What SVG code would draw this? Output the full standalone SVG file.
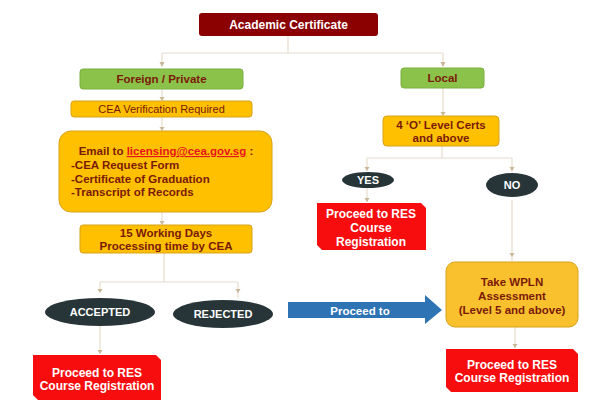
<svg xmlns="http://www.w3.org/2000/svg" width="612" height="408" viewBox="0 0 612 408">
<defs>
<style>
text{font-family:"Liberation Sans",Arial,sans-serif;}
.b{font-weight:bold;}
.dr{fill:#7A1A0A;}
.w{fill:#ffffff;}
.green{fill:#8BC34A;stroke:#7AAE3E;stroke-width:1;}
.orange{fill:#FFC000;stroke:#D9A21B;stroke-width:1;}
.ell{fill:#283538;}
.red{fill:#F70D0D;}
.con{fill:none;stroke:#E6DCCD;stroke-width:1.2;}
.ah{fill:#C9B797;}
</style>
</defs>
<rect width="612" height="408" fill="#ffffff"/>
<g id="connectors">
<path class="con" d="M288,36 V53 M162,53 H443 M162,53 V66 M443,53 V66"/>
<path class="con" d="M162,89 V100 M162,117 V130 M162,212 V224"/>
<path class="con" d="M164,253 V282 M100,282 H238 M100,282 V292 M238,282 V298"/>
<path class="con" d="M100,326 V354"/>
<path class="con" d="M443,88 V115 M442,146 V158 M367,158 H512 M367,158 V171 M512,158 V172"/>
<path class="con" d="M367,188 V202 M512,200 V261 M515,327 V348"/>
<g class="ah">
<path d="M159.5,62 L164.5,62 L162,67 Z"/>
<path d="M440.5,62 L445.5,62 L443,67 Z"/>
<path d="M159.5,97 L164.5,97 L162,101 Z"/>
<path d="M159.5,127 L164.5,127 L162,131 Z"/>
<path d="M159.5,221 L164.5,221 L162,225 Z"/>
<path d="M97.5,289 L102.5,289 L100,293 Z"/>
<path d="M235.5,289 L240.5,289 L238,293 Z"/>
<path d="M97.5,350 L102.5,350 L100,354 Z"/>
<path d="M440.5,112 L445.5,112 L443,116 Z"/>
<path d="M364.5,167 L369.5,167 L367,171 Z"/>
<path d="M509.5,167 L514.5,167 L512,171 Z"/>
<path d="M364.5,198 L369.5,198 L367,202 Z"/>
<path d="M509.5,253 L514.5,253 L512,257 Z"/>
<path d="M512.5,344 L517.5,344 L515,348 Z"/>
</g>
</g>
<g id="academic">
<rect x="199" y="13" width="179" height="23" rx="3" fill="#8B0000"/>
<text x="288.5" y="29" class="b w" font-size="12" text-anchor="middle">Academic Certificate</text>
</g>
<g id="foreign">
<rect x="80" y="69" width="163" height="20" rx="3" class="green"/>
<text x="161.5" y="83" class="b dr" font-size="11.5" text-anchor="middle">Foreign / Private</text>
</g>
<g id="cea">
<rect x="71" y="101" width="181" height="16" rx="3" class="orange"/>
<text x="161.5" y="113" class="dr" font-size="11" text-anchor="middle">CEA Verification Required</text>
</g>
<g id="email">
<rect x="59" y="131" width="213" height="81" rx="12" class="orange"/>
<text x="166" y="155" class="b dr" font-size="11.5" text-anchor="middle">Email to <tspan fill="#E8141C" text-decoration="underline">licensing@cea.gov.sg</tspan> :</text>
<text x="71" y="169" class="b dr" font-size="11.5">-CEA Request Form</text>
<text x="71" y="183" class="b dr" font-size="11.5">-Certificate of Graduation</text>
<text x="71" y="196" class="b dr" font-size="11.5">-Transcript of Records</text>
</g>
<g id="working">
<rect x="80" y="225" width="172" height="28" rx="3" class="orange"/>
<text x="166" y="237" class="b dr" font-size="11.5" text-anchor="middle">15 Working Days</text>
<text x="166" y="250" class="b dr" font-size="11.5" text-anchor="middle">Processing time by CEA</text>
</g>
<g id="accepted">
<ellipse cx="100" cy="312" rx="55" ry="14" class="ell"/>
<text x="100" y="316" class="b w" font-size="11" text-anchor="middle">ACCEPTED</text>
</g>
<g id="rejected">
<ellipse cx="223" cy="314" rx="50" ry="14" class="ell"/>
<text x="223" y="318" class="b w" font-size="11" text-anchor="middle">REJECTED</text>
</g>
<g id="res1">
<path d="M33,355 H156 L161,360 V400 H38 L33,395 Z" class="red"/>
<text x="97" y="377" class="b w" font-size="12" text-anchor="middle">Proceed to RES</text>
<text x="97" y="390" class="b w" font-size="12" text-anchor="middle">Course Registration</text>
</g>
<g id="local">
<rect x="401" y="68" width="83" height="20" rx="3" class="green"/>
<text x="442.5" y="82" class="b dr" font-size="11.5" text-anchor="middle">Local</text>
</g>
<g id="olevel">
<rect x="383" y="116" width="116" height="30" rx="4" class="orange"/>
<text x="441" y="129" class="b dr" font-size="11.5" text-anchor="middle">4 ‘O’ Level Certs</text>
<text x="441" y="142" class="b dr" font-size="11.5" text-anchor="middle">and above</text>
</g>
<g id="yes">
<ellipse cx="368" cy="180" rx="26" ry="8" class="ell"/>
<text x="368" y="184" class="b w" font-size="11" text-anchor="middle">YES</text>
</g>
<g id="no">
<ellipse cx="512" cy="185" rx="26" ry="12" class="ell"/>
<text x="512" y="189" class="b w" font-size="11" text-anchor="middle">NO</text>
</g>
<g id="res2">
<path d="M317,203 H421 L426,208 V250 H322 L317,245 Z" class="red"/>
<text x="371" y="218" class="b w" font-size="12" text-anchor="middle">Proceed to RES</text>
<text x="371" y="232" class="b w" font-size="12" text-anchor="middle">Course</text>
<text x="371" y="246" class="b w" font-size="12" text-anchor="middle">Registration</text>
</g>
<g id="arrow">
<path d="M288,302 H425 V295 L442,310 L425,324 V318 H288 Z" fill="#2E74B5"/>
<text x="360" y="315" class="b w" font-size="11.5" text-anchor="middle">Proceed to</text>
</g>
<g id="wpln">
<rect x="446" y="262" width="132" height="65" rx="9" fill="#FAC12E" stroke="#D9A21B" stroke-width="1"/>
<text x="512" y="286" class="b dr" font-size="11.5" text-anchor="middle">Take WPLN</text>
<text x="512" y="300" class="b dr" font-size="11.5" text-anchor="middle">Assessment</text>
<text x="512" y="314" class="b dr" font-size="11.5" text-anchor="middle">(Level 5 and above)</text>
</g>
<g id="res3">
<path d="M446,349 H573 L578,354 V392 H451 L446,387 Z" class="red"/>
<text x="512" y="369" class="b w" font-size="12" text-anchor="middle">Proceed to RES</text>
<text x="512" y="382" class="b w" font-size="12" text-anchor="middle">Course Registration</text>
</g>
</svg>
